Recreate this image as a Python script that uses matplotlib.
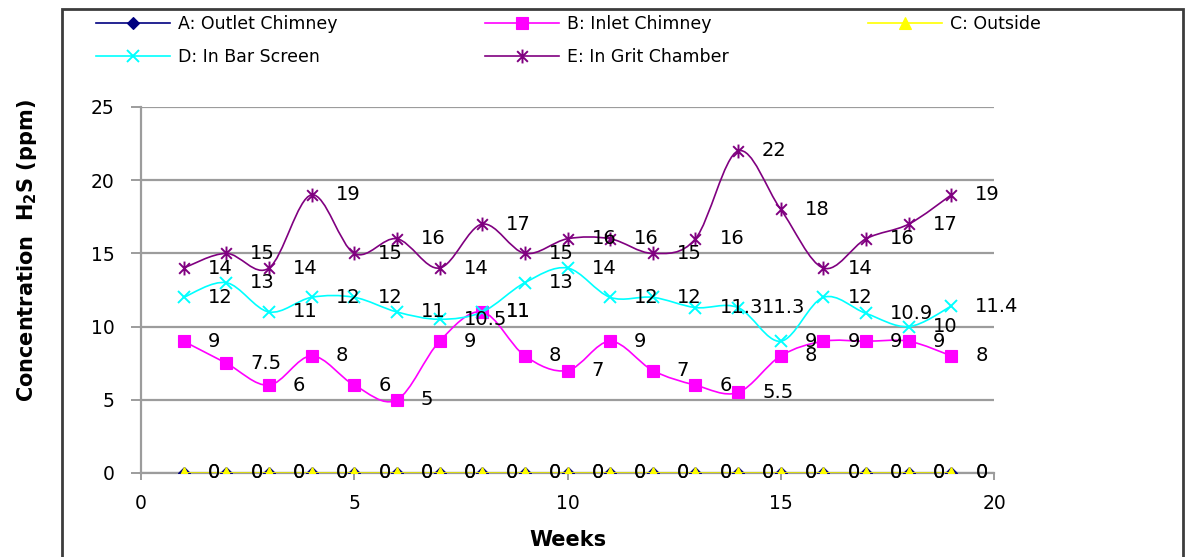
import numpy as np
import matplotlib
matplotlib.use("Agg")
import matplotlib.pyplot as plt
from matplotlib.path import Path
from matplotlib.patches import PathPatch, Rectangle
from matplotlib.lines import Line2D

# weekly H2S readings (ppm) at each sampling point
weeks = list(range(1, 20))
outlet_chimney = [0] * 19
inlet_chimney = [9, 7.5, 6, 8, 6, 5, 9, 11, 8, 7, 9, 7, 6, 5.5, 8, 9, 9, 9, 8]
outside = [0] * 19
bar_screen = [12, 13, 11, 12, 12, 11, 10.5, 11, 13, 14, 12, 12, 11.3, 11.3, 9, 12, 10.9, 10, 11.4]
grit_chamber = [14, 15, 14, 19, 15, 16, 14, 17, 15, 16, 16, 15, 16, 22, 18, 14, 16, 17, 19]

names = ["A: Outlet Chimney", "B: Inlet Chimney", "C: Outside",
         "D: In Bar Screen", "E: In Grit Chamber"]
colors = ["#000080", "#ff00ff", "#ffff00", "#00ffff", "#800080"]

# asterisk marker: an x with a vertical bar through it
star = Path([(-1, -1), (1, 1), (-1, 1), (1, -1), (0, -1.3), (0, 1.3)],
            [Path.MOVETO, Path.LINETO] * 3)
markers = ["D", "s", "^", "x", star]
msizes = [6, 9, 9, 9, 10]


def smooth_path(x, y):
    # cubic bezier through the points, like a spreadsheet "smoothed line"
    p = np.column_stack([x, y]).astype(float)
    q = np.vstack([p[0], p, p[-1]])
    verts = [p[0]]
    codes = [Path.MOVETO]
    for i in range(len(p) - 1):
        c1 = q[i + 1] + (q[i + 2] - q[i]) / 6.0
        c2 = q[i + 2] - (q[i + 3] - q[i + 1]) / 6.0
        verts += [c1, c2, q[i + 2]]
        codes += [Path.CURVE4] * 3
    return Path(verts, codes)


fig = plt.figure(figsize=(11.86, 5.57), dpi=100)
ax = fig.add_axes([141 / 1186, 1 - 473 / 557, 853 / 1186, 366 / 557])

series = [outlet_chimney, inlet_chimney, outside, bar_screen, grit_chamber]
handles = []
for k, vals in enumerate(series):
    ax.add_patch(PathPatch(smooth_path(weeks, vals), fill=False,
                           ec=colors[k], lw=1.2, zorder=3 + k * 0.1))
    mew = 1.4 if k >= 3 else 0.8
    ax.plot(weeks, vals, ls="none", marker=markers[k], ms=msizes[k],
            color=colors[k], mec=colors[k], mew=mew, zorder=3.05 + k * 0.1)
    handles.append(Line2D([], [], color=colors[k], lw=1.2, marker=markers[k],
                          ms=msizes[k], mec=colors[k], mew=mew))
    for xv, yv in zip(weeks, vals):
        ax.annotate(f"{yv:g}", (xv, yv), xytext=(24, 0),
                    textcoords="offset pixels", ha="left", va="center",
                    fontsize=14, color="black", zorder=5)

ax.set_xlim(0, 20)
ax.set_ylim(0, 25)
ax.set_xticks(range(0, 21, 5))
ax.set_yticks(range(0, 26, 5))
ax.spines["top"].set_visible(False)
ax.spines["right"].set_visible(False)
for s in ("left", "bottom"):
    ax.spines[s].set_color("#9c9c9c")
    ax.spines[s].set_linewidth(1.6)
ax.grid(axis="y", color="#9c9c9c", lw=1.6)
ax.set_axisbelow(True)
ax.tick_params(axis="x", length=5, width=1.4, color="#9c9c9c", pad=10,
               labelsize=13.5)
ax.tick_params(axis="y", length=7, width=1.4, color="#9c9c9c", pad=12,
               labelsize=13.5)

ax.set_xlabel("Weeks", fontsize=15, fontweight="bold")
ax.xaxis.set_label_coords(0.5, -0.183)
ax.xaxis.label.set_va("center")
ax.set_ylabel("Concentration  H$_\\mathbf{2}$S (ppm)", fontsize=15,
              fontweight="bold")
ax.yaxis.set_label_coords(-0.134, 0.607)
ax.yaxis.label.set_va("center")

# legend in three columns above the plot
cols = [(96, [0, 3]), (485, [1, 4]), (868, [2])]
for xpix, idx in cols:
    fig.legend([handles[i] for i in idx], [names[i] for i in idx],
               loc="upper left", bbox_to_anchor=(xpix / 1186, 1 - 15 / 557),
               frameon=False, fontsize=12.5, numpoints=1, handlelength=4.25,
               handletextpad=0.45, labelspacing=0.87, borderpad=0,
               borderaxespad=0)

# outer chart border
fig.add_artist(Rectangle((62 / 1186, -0.1), (1183 - 62) / 1186,
                         1.1 - 9 / 557, transform=fig.transFigure,
                         fill=False, ec="#3c3c3c", lw=2))

fig.savefig("out.png", dpi=100)
